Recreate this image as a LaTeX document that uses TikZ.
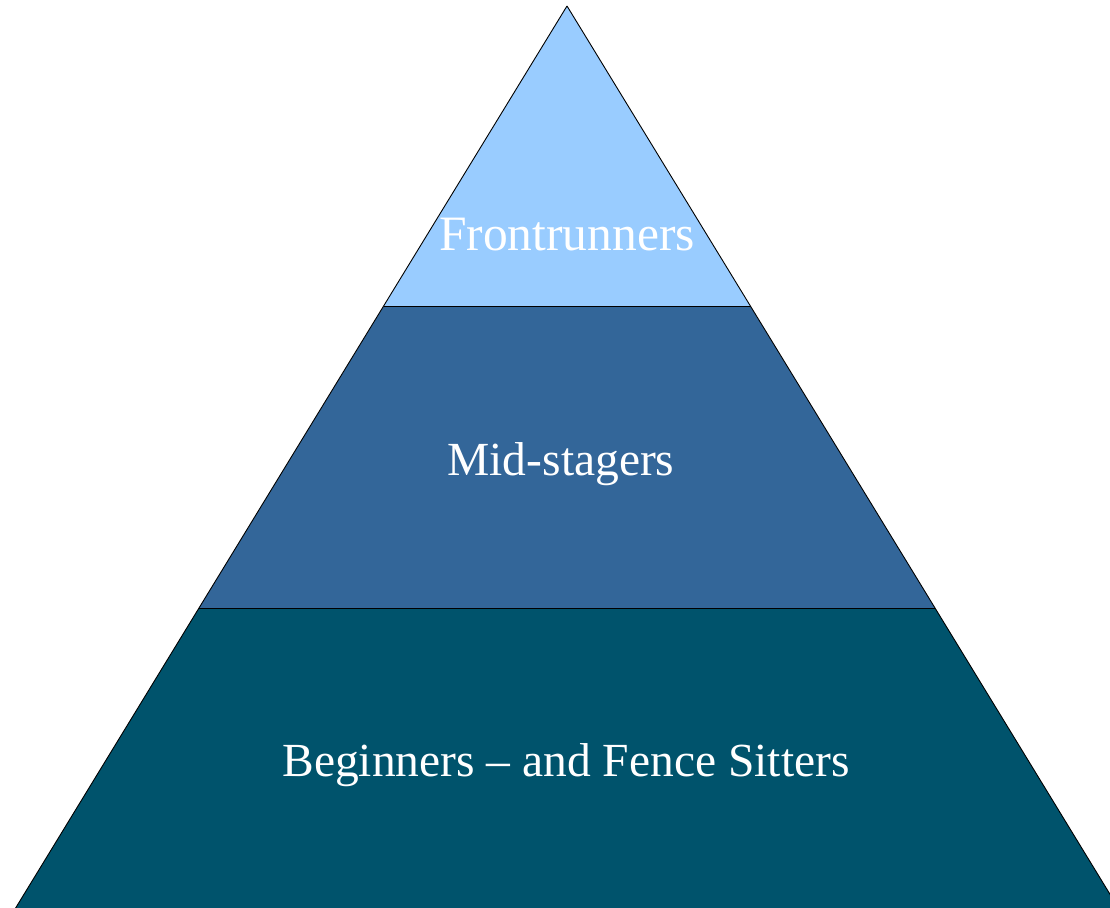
\documentclass[tikz,border=0pt]{standalone}
\usepackage{fontspec}
\setmainfont{Liberation Serif}
\definecolor{topblue}{HTML}{99CCFF}
\definecolor{midblue}{HTML}{336699}
\definecolor{basecol}{HTML}{00536C}
\tikzset{
  layer/.style={draw=black, line width=0.9pt, line join=miter},
  lbl/.style={text=white, font=\fontsize{47.5}{52}\selectfont, inner sep=0pt, anchor=base},
}
\begin{document}
\begin{tikzpicture}[x=1pt,y=-1pt]
\useasboundingbox (0,0) rectangle (1110,907);
\clip (0,0) rectangle (1110,907);
\coordinate (apex) at (567,6);
\coordinate (l1) at (383.5,306.5);
\coordinate (r1) at (750.5,306.5);
\coordinate (l2) at (199,608);
\coordinate (r2) at (935,608);
\coordinate (l3) at (15,909);
\coordinate (r3) at (1119,909);
\fill[basecol] (l2) -- (r2) -- (r3) -- (l3) -- cycle;
\fill[midblue] (l1) -- (r1) -- (r2) -- (l2) -- cycle;
\fill[topblue] (apex) -- (r1) -- (l1) -- cycle;
\draw[layer] (apex) -- (l3);
\draw[layer] (apex) -- (r3);
\draw[layer] (l1) -- (r1);
\draw[layer] (l2) -- (r2);
\node[lbl, font=\fontsize{49.5}{54}\selectfont] (front) at (567,250) {Frontrunners};
\node[lbl] (mid) at (561,475) {Mid-stagers};
\node[lbl] (begin) at (566,776) {Beginners – and Fence Sitters};
\end{tikzpicture}
\end{document}
